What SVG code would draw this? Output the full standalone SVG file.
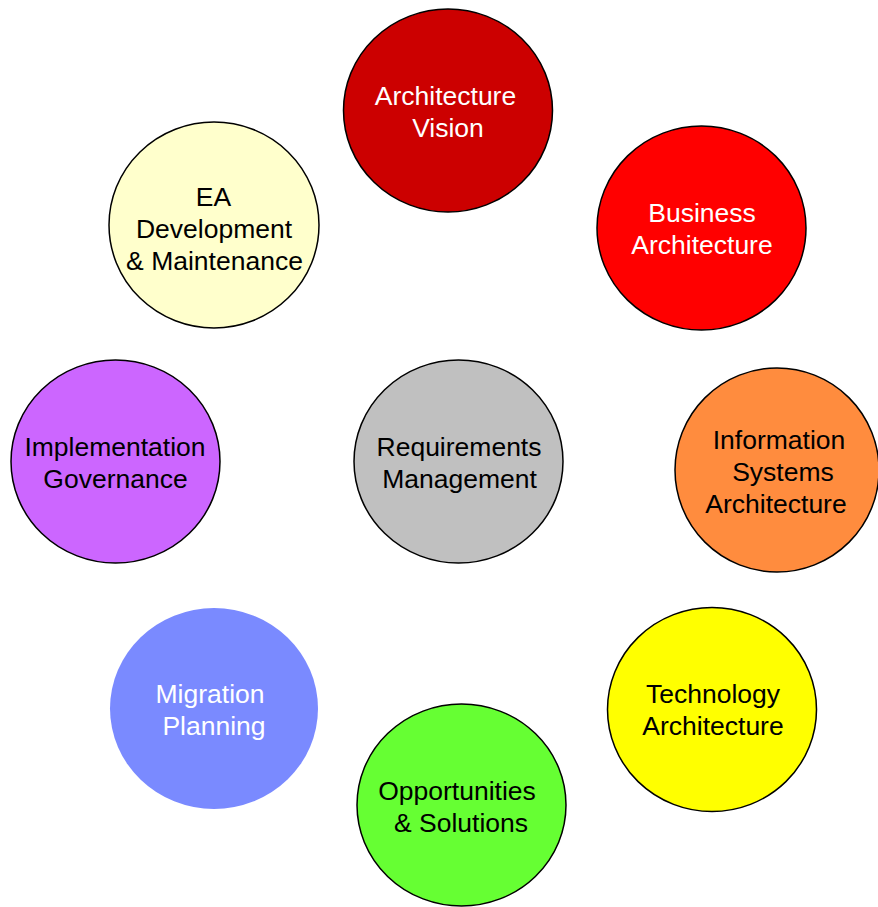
<svg xmlns="http://www.w3.org/2000/svg" width="878" height="907" viewBox="0 0 878 907">
<style>
.n ellipse{stroke:#000;stroke-width:1.5}
.n text{font-family:"Liberation Sans",Arial,sans-serif;font-size:26.5px;text-anchor:middle;fill:#000}
.w text{fill:#fff}
#migration ellipse{stroke:none}
</style>
<rect width="878" height="907" fill="#fff"/>
<g id="connectors"></g>
<g id="vision" class="n w"><ellipse cx="448" cy="110.5" rx="104.5" ry="101.5" fill="#CC0000"/><text x="445.5" y="105">Architecture</text><text x="448" y="137">Vision</text></g>
<g id="business" class="n w"><ellipse cx="701.5" cy="228" rx="104.5" ry="102" fill="#FF0000"/><text x="702" y="222">Business</text><text x="702" y="254">Architecture</text></g>
<g id="infosys" class="n"><ellipse cx="777" cy="470" rx="102" ry="102" fill="#FF8C3E"/><text x="779" y="449">Information</text><text x="783" y="481">Systems</text><text x="776" y="513">Architecture</text></g>
<g id="technology" class="n"><ellipse cx="712" cy="709.5" rx="104.5" ry="102" fill="#FFFF00"/><text x="713" y="703">Technology</text><text x="713" y="735">Architecture</text></g>
<g id="opportunities" class="n"><ellipse cx="461.5" cy="805" rx="104.5" ry="101" fill="#66FF33"/><text x="457" y="800">Opportunities</text><text x="461" y="832">&amp; Solutions</text></g>
<g id="migration" class="n w"><ellipse cx="214" cy="708.5" rx="104" ry="100.5" fill="#7A8AFF"/><text x="210" y="703">Migration</text><text x="214" y="735">Planning</text></g>
<g id="implementation" class="n"><ellipse cx="115.5" cy="461.5" rx="104.5" ry="101.5" fill="#CC66FF"/><text x="115" y="456">Implementation</text><text x="115.5" y="488">Governance</text></g>
<g id="eadev" class="n"><ellipse cx="214" cy="225" rx="105" ry="103" fill="#FFFFCC"/><text x="213.5" y="206">EA</text><text x="214" y="238">Development</text><text x="214.5" y="270">&amp; Maintenance</text></g>
<g id="requirements" class="n"><ellipse cx="458.5" cy="461.5" rx="104.5" ry="101.5" fill="#C0C0C0"/><text x="459" y="456">Requirements</text><text x="459.5" y="488">Management</text></g>
</svg>
